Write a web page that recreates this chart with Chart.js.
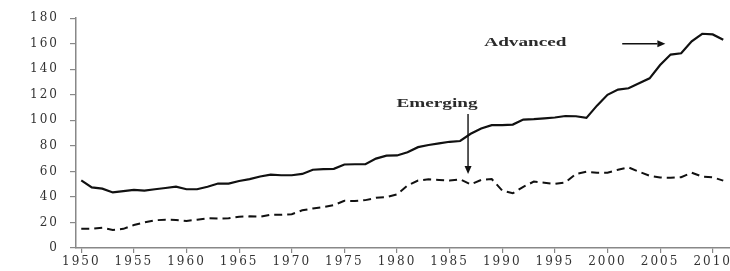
<!DOCTYPE html>
<html>
<head>
<meta charset="utf-8">
<script src="https://cdn.jsdelivr.net/npm/chart.js@4/dist/chart.umd.min.js"></script>
<style>
  html, body { margin: 0; padding: 0; background: #fff; overflow: hidden; }
  #wrap { position: relative; width: 730px; height: 271px; }
</style>
</head>
<body>
<div id="wrap"><canvas id="chart"></canvas></div>
<script>
const years = [
  1950, 1951, 1952, 1953, 1954, 1955, 1956, 1957, 1958, 1959,
  1960, 1961, 1962, 1963, 1964, 1965, 1966, 1967, 1968, 1969,
  1970, 1971, 1972, 1973, 1974, 1975, 1976, 1977, 1978, 1979,
  1980, 1981, 1982, 1983, 1984, 1985, 1986, 1987, 1988, 1989,
  1990, 1991, 1992, 1993, 1994, 1995, 1996, 1997, 1998, 1999,
  2000, 2001, 2002, 2003, 2004, 2005, 2006, 2007, 2008, 2009,
  2010, 2011
];
const advanced = [
  53, 47.5, 46.5, 43.5, 44.5, 45.5, 45, 46, 47, 48,
  46, 46, 48, 50.5, 50.5, 52.5, 54, 56, 57.4, 57,
  57, 58, 61.3, 61.8, 62, 65.4, 65.6, 65.6, 70, 72.4,
  72.5, 75, 79, 80.7, 82, 83.2, 83.8, 89.5, 93.6, 96.2,
  96.2, 96.7, 100.6, 101, 101.6, 102.2, 103.4, 103.2, 101.9, 111.5,
  120, 124.1, 125.1, 129, 132.9, 143.3, 151.5, 152.5, 161.9, 167.8,
  167.3, 163.2
];
const emerging = [
  15, 15, 15.8, 14.2, 15, 18, 20, 21.7, 22.2, 22,
  21.2, 22.2, 23.3, 23, 23.3, 24.5, 24.8, 24.5, 26, 26,
  26.5, 29.5, 31, 32, 33.6, 37, 36.8, 37.5, 39.3, 39.8,
  42, 48.9, 52.8, 53.8, 53.3, 52.8, 53.8, 49.9, 53.3, 54,
  45, 42.9, 47.9, 52, 51.2, 50.2, 51.4, 58, 59.7, 59,
  58.9, 61.3, 63.1, 59.7, 56.6, 55.3, 55, 55.5, 59, 55.9,
  55.3, 52.8
];
const xTicks = [1950, 1955, 1960, 1965, 1970, 1975, 1980, 1985, 1990, 1995, 2000, 2005, 2010];
const yTicks = [0, 20, 40, 60, 80, 100, 120, 140, 160, 180];

// labels with arrows, placed in data units
const notes = [
  { text: 'Emerging', at: [1983.8, 113], from: [1986.75, 105], to: [1986.75, 58] },
  { text: 'Advanced', at: [1992.2, 160.5], from: [2001.4, 160], to: [2005.5, 160] }
];

// the source figure is stretched sideways, so space the tick digits out a bit
const spacing = {
  id: 'spacing',
  beforeDraw(chart) {
    chart.ctx.letterSpacing = '2px';
  }
};

const notePlugin = {
  id: 'notes',
  afterDatasetsDraw(chart) {
    const ctx = chart.ctx;
    const xs = chart.scales.x, ys = chart.scales.y;
    ctx.save();
    ctx.letterSpacing = '0px';
    ctx.strokeStyle = '#111';
    ctx.lineWidth = 1.4;
    ctx.font = 'bold 12px "Liberation Serif"';
    ctx.textAlign = 'center';
    ctx.textBaseline = 'middle';
    notes.forEach(n => {
      ctx.save();
      ctx.fillStyle = '#2b2b2b';
      ctx.translate(xs.getPixelForValue(n.at[0]), ys.getPixelForValue(n.at[1]));
      ctx.scale(1.6, 1);
      ctx.fillText(n.text, 0, 0);
      ctx.restore();

      const x1 = xs.getPixelForValue(n.from[0]), y1 = ys.getPixelForValue(n.from[1]);
      const x2 = xs.getPixelForValue(n.to[0]), y2 = ys.getPixelForValue(n.to[1]);
      const a = Math.atan2(y2 - y1, x2 - x1);
      const len = 8, hw = 3.5;
      ctx.beginPath();
      ctx.moveTo(x1, y1);
      ctx.lineTo(x2 - Math.cos(a) * len, y2 - Math.sin(a) * len);
      ctx.stroke();
      ctx.beginPath();
      ctx.moveTo(x2, y2);
      ctx.lineTo(x2 - Math.cos(a) * len - Math.sin(a) * hw, y2 - Math.sin(a) * len + Math.cos(a) * hw);
      ctx.lineTo(x2 - Math.cos(a) * len + Math.sin(a) * hw, y2 - Math.sin(a) * len - Math.cos(a) * hw);
      ctx.closePath();
      ctx.fillStyle = '#111';
      ctx.fill();
    });
    ctx.restore();
  }
};

new Chart(document.getElementById('chart'), {
  type: 'line',
  data: {
    datasets: [
      {
        label: 'Advanced',
        data: years.map((yr, i) => ({ x: yr, y: advanced[i] })),
        borderColor: '#111',
        borderWidth: 2.2,
        pointRadius: 0,
        tension: 0
      },
      {
        label: 'Emerging',
        data: years.map((yr, i) => ({ x: yr, y: emerging[i] })),
        borderColor: '#111',
        borderWidth: 2,
        borderDash: [8, 5],
        pointRadius: 0,
        tension: 0
      }
    ]
  },
  options: {
    responsive: true,
    maintainAspectRatio: false,
    animation: false,
    layout: { padding: { top: 13, right: 0, bottom: 0, left: 0 } },
    plugins: {
      legend: { display: false },
      tooltip: { enabled: false }
    },
    scales: {
      x: {
        type: 'linear',
        min: 1949.5,
        max: 2011.6,
        afterBuildTicks: s => { s.ticks = xTicks.map(v => ({ value: v })); },
        afterFit: s => { s.height = 23; },
        ticks: {
          callback: v => String(v),
          font: { family: '"DejaVu Serif"', size: 12 },
          color: '#333',
          padding: 2,
          maxRotation: 0
        },
        grid: { drawOnChartArea: false, drawTicks: true, tickLength: 5, color: '#888', lineWidth: 1.2 },
        border: { display: true, color: '#888', width: 1.5 }
      },
      y: {
        min: 0,
        max: 180,
        afterBuildTicks: s => { s.ticks = yTicks.map(v => ({ value: v })); },
        afterFit: s => { s.width = 76; },
        ticks: {
          font: { family: '"DejaVu Serif"', size: 12 },
          color: '#333',
          padding: 11
        },
        grid: { drawOnChartArea: false, drawTicks: true, tickLength: 6, color: '#888', lineWidth: 1.2 },
        border: { display: true, color: '#888', width: 1.5 }
      }
    }
  },
  plugins: [spacing, notePlugin]
});
</script>
</body>
</html>
